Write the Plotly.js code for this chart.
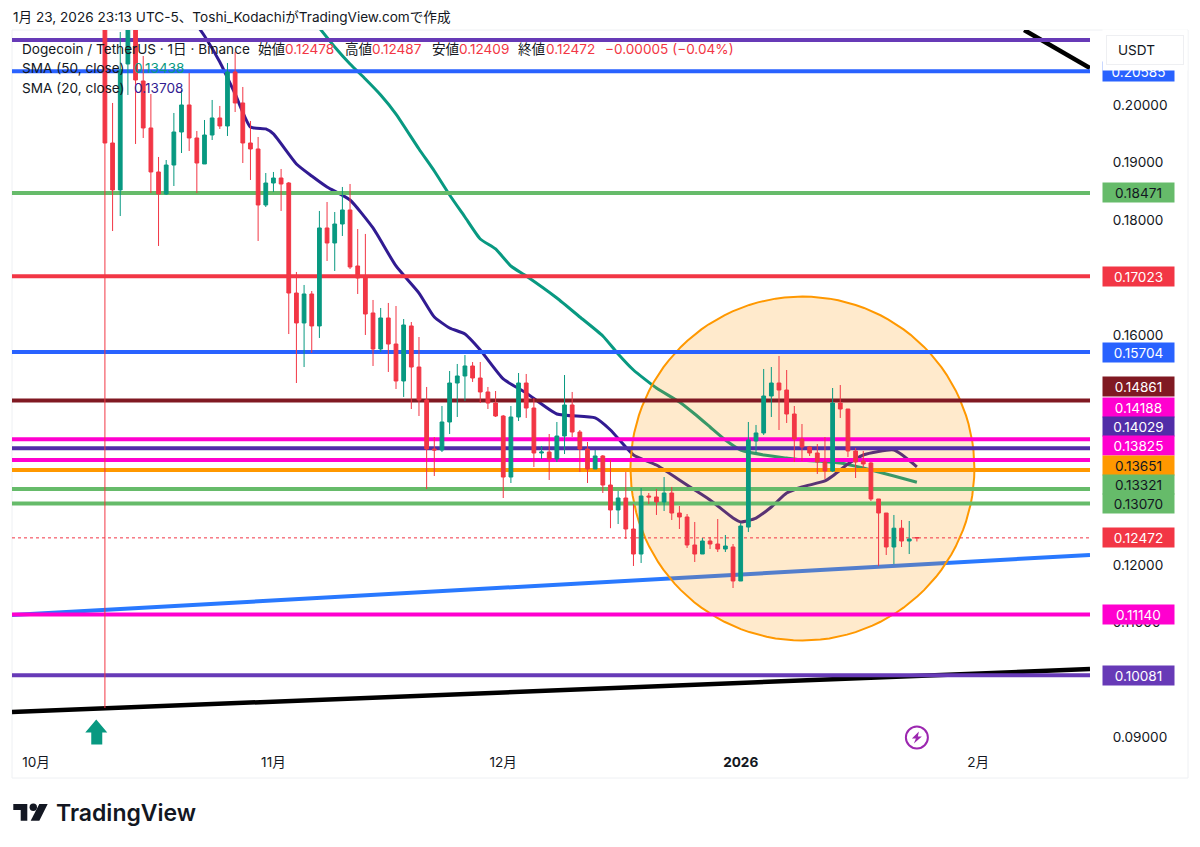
<!DOCTYPE html>
<html><head><meta charset="utf-8">
<script src="https://cdn.plot.ly/plotly-3.0.1.min.js"></script>
<style>html,body{margin:0;padding:0;background:#fff}#c{width:1200px;height:847px}</style>
</head><body><div id="c"></div>
<script>
const firstCandle = '2025-10-10';
const open = [.2510,.19339,.18522,.20713,.2160,.20417,.196,.18835,.18452,.18956,.1953,.2,.19426,.18974,.19478,.19774,.19635,.20574,.20035,.19339,.19235,.18261,
.18643,.1873,.18643,.1673,.16209,.16713,.16157,.17861,.176,.1793,.18174,.172,.16991,.16383,.15757,.16296,.15843,.152,.16157,.15443,.1487,.14017,.14,.14487,.15165,.15287,.15461,.15252,.15009,.14817,
.14591,.1353,.14574,.15165,.1473,.13948,.13965,.13844,.14243,.14783,.14313,.14017,.1367,.13896,.13391,.12957,.13165,.12626,.12191,.132,.13183,.13096,.13252,.12904,.12835,.12348,.12191,.12417,.12365,.12278,.12313,
.11722,.1266,.14157,.14296,.14939,.15165,.15043,.14626,.14191,.14052,.13948,.13791,.13635,.14817,.14713,.13983,.13809,.13774,.13148,.12904,.12313,.1264,.12417,.12478];
const high = [.2540,.20035,.21269,.2250,.2230,.20852,.20191,.19096,.19043,.19861,.20261,.20556,.19548,.19739,.20087,.19983,.2073,.20922,.20313,.19722,.19443,.18817,
.18835,.18887,.1866,.17096,.1687,.16765,.18157,.18313,.18139,.18574,.18626,.17843,.17757,.16609,.1647,.16557,.16504,.16278,.16226,.15965,.15096,.14226,.14765,.15374,.15496,.15652,.1553,.1553,.15096,.15026,
.14609,.14765,.15339,.15322,.14904,.1407,.14278,.14487,.15304,.15009,.14348,.14139,.14,.13913,.13826,.13287,.13617,.13061,.13339,.13252,.13322,.1353,.13357,.13026,.12887,.12748,.1247,.12487,.128,.12522,.12365,
.1273,.14487,.14435,.15409,.15443,.15635,.15391,.14765,.14452,.1407,.14104,.14226,.15078,.1513,.14713,.14035,.13983,.13791,.13148,.12904,.1287,.12783,.12765,.12487];
const low = [.09513,.17808,.18069,.20174,.19322,.19426,.18469,.17548,.18435,.18591,.19165,.192,.18469,.18974,.19391,.19583,.19461,.19878,.18991,.18696,.17635,.18226,
.18487,.18157,.16017,.15165,.15443,.15687,.15948,.17287,.17113,.17722,.17148,.16713,.16,.15461,.15704,.15357,.15061,.14922,.14713,.14591,.13322,.13548,.13965,.14278,.14574,.14852,.15183,.14817,.14713,.14574,
.13165,.13426,.14504,.14557,.13704,.13844,.13478,.13791,.1393,.14226,.13617,.13426,.1367,.13252,.1264,.12713,.12452,.11983,.12035,.13061,.1287,.12939,.12783,.12626,.12296,.12052,.12191,.12278,.12226,.12226,.116,
.11722,.12574,.13948,.14261,.14574,.14348,.1447,.13791,.13809,.13896,.13583,.13496,.13617,.14557,.13878,.13513,.13687,.13113,.11983,.12174,.12017,.12313,.12191,.12409];
const close = [.19339,.18522,.20608,.2160,.20435,.196,.18835,.18452,.18956,.1953,.2,.19426,.18991,.19478,.19774,.19635,.20574,.20035,.19339,.19235,.18261,.18643,
.1873,.18626,.1673,.16209,.16713,.16157,.17861,.176,.1793,.18174,.17183,.16991,.16365,.15757,.16296,.15843,.152,.16174,.15443,.1487,.14017,.14,.14487,.15165,.15287,.15461,.15252,.15009,.14817,.14591,
.1353,.14574,.15165,.1473,.13948,.13965,.13844,.14243,.14783,.14313,.14017,.1367,.13896,.13391,.12957,.13165,.12626,.12191,.132,.13183,.13096,.13252,.12904,.12835,.12348,.12191,.12417,.12365,.12278,.1233,.11722,
.12678,.14174,.14296,.14939,.15165,.15043,.14626,.14191,.14052,.13948,.13791,.13635,.14817,.14713,.13983,.13791,.13757,.13148,.12904,.12313,.1264,.12417,.12452,.12472];

const sma20Dates = ['2025-10-22','2025-10-23','2025-10-25','2025-10-27','2025-10-29','2025-10-31','2025-11-01','2025-11-04','2025-11-06','2025-11-08','2025-11-11','2025-11-14','2025-11-17','2025-11-20','2025-11-22','2025-11-24','2025-11-26','2025-11-28','2025-12-01','2025-12-04','2025-12-08','2025-12-13','2025-12-15','2025-12-18','2025-12-21','2025-12-24','2025-12-26','2025-12-28','2025-12-31','2026-01-01','2026-01-03','2026-01-05','2026-01-07','2026-01-09','2026-01-12','2026-01-13','2026-01-15','2026-01-17','2026-01-21','2026-01-24'];
const sma20Values = [.21391,.212,.20748,.20191,.19617,.19583,.19496,.18974,.18765,.18574,.18348,.17861,.172,.1673,.16313,.16122,.16017,.15739,.15235,.14991,.14626,.14557,.14348,.13913,.13739,.13478,.13304,.1313,.12817,.12748,.12817,.13009,.13252,.13357,.13461,.13548,.13757,.13913,.14,.13708];
const sma50Dates = ['2025-11-07','2025-11-09','2025-11-11','2025-11-13','2025-11-15','2025-11-17','2025-11-20','2025-11-22','2025-11-24','2025-11-26','2025-11-28','2025-11-30','2025-12-02','2025-12-04','2025-12-08','2025-12-11','2025-12-14','2025-12-16','2025-12-18','2025-12-21','2025-12-24','2025-12-26','2025-12-28','2025-12-30','2026-01-01','2026-01-04','2026-01-07','2026-01-09','2026-01-14','2026-01-17','2026-01-21','2026-01-24'];
const sma50Values = [.21339,.21009,.20713,.20452,.20174,.19843,.19235,.18852,.18435,.18052,.1767,.17496,.172,.17026,.16643,.16313,.15983,.1567,.15391,.15078,.14835,.14626,.144,.14174,.14,.13913,.13861,.13826,.13774,.13687,.13548,.13438];

const levelPrices = [.2113,.20585,.18471,.17023,.15704,.14861,.14188,.14029,.13825,.13651,.13321,.1307,.1114,.10081];
const levelColors = ['#673ab7','#2962ff','#66bb6a','#f23645','#2962ff','#801922','#ff00cf','#512da8','#ff00cf','#ff9800','#66bb6a','#66bb6a','#ff00cf','#673ab7'];
const priceTicks = [.09,.11,.12,.16,.18,.19,.2];
const monthTicks = ['2025-10-01','2025-11-01','2025-12-01','2026-01-01','2026-02-01'];
const monthLabels = ['10月','11月','12月','<b>2026</b>','2月'];
const lastPrice = .12472;

const tagPrices = [.20585,.18471,.17023,.15704,.14861,.14188,.14029,.13825,.13651,.13321,.1307,.12472,.1114,.10081];
const tagColors = ['#2962ff','#66bb6a','#f23645','#2962ff','#801922','#ff00cf','#512da8','#ff00cf','#ff9800','#66bb6a','#66bb6a','#f23645','#ff00cf','#673ab7'];
const tagInk = ['#fff','#131722','#fff','#fff','#fff','#fff','#fff','#fff','#131722','#131722','#131722','#fff','#fff','#fff'];
const tagShift = [0,0,0,0,13.5,32,22,15,5,5,0,0,0,0];

const xRange = ['2025-09-27 20:53','2026-02-15 14:24'];
const yRange = [.08748,.21304];
const FONT = 'Inter, "Noto Sans CJK JP", sans-serif';
const INK = '#131722';
const SIZE = 13.6;

const px = v => (v-12)/1078, py = v => (752-v)/722;

const candleDates = open.map((_,i)=>{const d=new Date(Date.parse(firstCandle+'T00:00:00Z')+i*864e5);return d.toISOString().slice(0,10);});

const lineTrace = (x,y,color,width,z,extra={}) => Object.assign({type:'scatter',mode:'lines',x,y,line:Object.assign({color,width},extra),hoverinfo:'skip',showlegend:false,zorder:z});

const traces = [];
traces.push(lineTrace([xRange[0],xRange[1]],[.1113,.12174],'#2979ff',4,0));
traces.push(lineTrace([xRange[0],xRange[1]],[.09443,.10191],'#000',4.5,0));
traces.push(lineTrace(['2026-02-07',xRange[1]],[.21304,.20643],'#000',4.5,0));
traces.push(lineTrace(sma50Dates,sma50Values,'#089981',3,1,{shape:'spline',smoothing:0.5}));
traces.push(lineTrace(sma20Dates,sma20Values,'#311b92',3,1,{shape:'spline',smoothing:0.5}));
const circleDay = 100.06, circlePrice = .13678, circleRx = 22.45, circleRy = .02991;
const cx=[],cy=[];
for(let a=0;a<=360;a+=3){cx.push(Date.parse('2025-10-01T00:00:00Z')+(circleDay+circleRx*Math.cos(a*Math.PI/180))*864e5);cy.push(circlePrice+circleRy*Math.sin(a*Math.PI/180));}
traces.push({type:'scatter',mode:'lines',x:cx,y:cy,fill:'toself',fillcolor:'rgba(255,152,0,0.2)',line:{color:'#ff9800',width:2},hoverinfo:'skip',showlegend:false,zorder:2});
levelPrices.forEach((p,i)=>traces.push(lineTrace(xRange,[p,p],levelColors[i],4,3)));
traces.push(lineTrace(xRange,[lastPrice,lastPrice],'#f23645',1,3,{dash:'dot'}));
traces.push({type:'candlestick',x:candleDates,open,high,low,close,zorder:4,showlegend:false,hoverinfo:'skip',
  increasing:{line:{color:'#089981',width:1},fillcolor:'#089981'},
  decreasing:{line:{color:'#f23645',width:1},fillcolor:'#f23645'}});

const ann = [];
const txt = (x,y,text,color=INK,size=SIZE,anchor='left',extra={}) => ann.push(Object.assign({xref:'paper',yref:'paper',x:px(x),y:py(y),text,showarrow:false,xanchor:anchor,yanchor:'middle',font:{family:FONT,size,color},borderpad:0},extra));

txt(12,17,'1月 23, 2026 23:13 UTC-5、Toshi_KodachiがTradingView.comで作成');
txt(21,49,'Dogecoin / TetherUS · 1日 · Binance');
[['始値',257,INK],['0.12478',284,'#f23645'],['高値',344,INK],['0.12487',371,'#f23645'],['安値',431,INK],['0.12409',458,'#f23645'],['終値',517,INK],['0.12472',545,'#f23645'],['−0.00005 (−0.04%)',604,'#f23645']]
  .forEach(([t,x,c])=>txt(x,49,t,c));
txt(21,68,'SMA (50, close)'); txt(133,68,'0.13438','#089981');
txt(21,88,'SMA (20, close)'); txt(133,88,'0.13708','#311b92');
txt(55,813,'TradingView',INK,23,'left',{font:{family:FONT,size:23,color:INK,weight:600}});

tagPrices.forEach((p,i)=>ann.push({xref:'paper',yref:'y',x:px(1138.5),y:p,yshift:tagShift[i],text:p.toFixed(5),showarrow:false,xanchor:'center',yanchor:'middle',width:71,height:19,bgcolor:tagColors[i],borderpad:0,font:{family:FONT,size:SIZE,color:tagInk[i]}}));
ann.push({xref:'paper',yref:'paper',x:px(1145),y:py(50),text:'\u00a0',showarrow:false,xanchor:'center',yanchor:'middle',width:84,height:40,bgcolor:'#fff',borderpad:0});
ann.push({xref:'paper',yref:'paper',x:px(1145),y:py(50),text:'\u00a0',showarrow:false,xanchor:'center',yanchor:'middle',width:76,height:28,bgcolor:'#fff',bordercolor:'#eeeff2',borderwidth:1,borderpad:0});
txt(1117,50,'USDT');

const shapes = [
 {type:'rect',xref:'paper',yref:'paper',x0:px(12),x1:px(1188),y0:py(30),y1:py(778),line:{color:'#eef0f3',width:1},fillcolor:'rgba(0,0,0,0)',layer:'below'},
 {type:'path',xsizemode:'pixel',ysizemode:'pixel',xref:'x',yref:'y',xanchor:'2025-10-09',yanchor:.09,
  path:'M-1,18 L10,5 H5 V-7 H-6 V5 H-12 Z',fillcolor:'#089981',line:{width:0},layer:'above'},
 {type:'circle',xsizemode:'pixel',ysizemode:'pixel',xref:'x',yref:'y',xanchor:'2026-01-24',yanchor:.09,x0:-11,x1:11,y0:-11,y1:11,line:{color:'#9c27b0',width:2},fillcolor:'rgba(0,0,0,0)',layer:'above'},
 {type:'path',xsizemode:'pixel',ysizemode:'pixel',xref:'x',yref:'y',xanchor:'2026-01-24',yanchor:.09,
  path:'M2,6 L-5,-1 H-1 L-3,-6 L5,1 H1 Z',fillcolor:'#9c27b0',line:{width:0},layer:'above'},
 {type:'path',xref:'paper',yref:'paper',path:`M${px(13.3)},${py(804)} H${px(27.3)} V${py(820.7)} H${px(20.7)} V${py(810)} H${px(13.3)} Z`,fillcolor:INK,line:{width:0}},
 {type:'circle',xref:'paper',yref:'paper',x0:px(29.6),x1:px(37),y0:py(803.6),y1:py(811),fillcolor:INK,line:{width:0}},
 {type:'path',xref:'paper',yref:'paper',path:`M${px(39.3)},${py(804)} H${px(47.7)} L${px(39.3)},${py(820.7)} H${px(30.7)} Z`,fillcolor:INK,line:{width:0}}
];

const layout = {
 width:1200,height:847,margin:{l:12,r:110,t:30,b:95},paper_bgcolor:'#fff',plot_bgcolor:'#fff',
 showlegend:false,hovermode:false,dragmode:false,font:{family:FONT,size:SIZE,color:INK},
 xaxis:{type:'date',range:xRange,rangeslider:{visible:false},showgrid:false,zeroline:false,showline:false,ticks:'',tickmode:'array',tickvals:monthTicks,ticktext:monthLabels,tickfont:{family:FONT,size:SIZE,color:INK},automargin:false},
 yaxis:{range:yRange,side:'right',showgrid:false,zeroline:false,showline:false,ticks:'outside',ticklen:19,tickcolor:'rgba(0,0,0,0)',tickmode:'array',tickvals:priceTicks,ticktext:priceTicks.map(v=>v.toFixed(5)),tickfont:{family:FONT,size:SIZE,color:INK},automargin:false,fixedrange:true},
 annotations:ann,shapes
};
Plotly.newPlot('c',traces,layout,{staticPlot:true,displayModeBar:false});
</script></body></html>
